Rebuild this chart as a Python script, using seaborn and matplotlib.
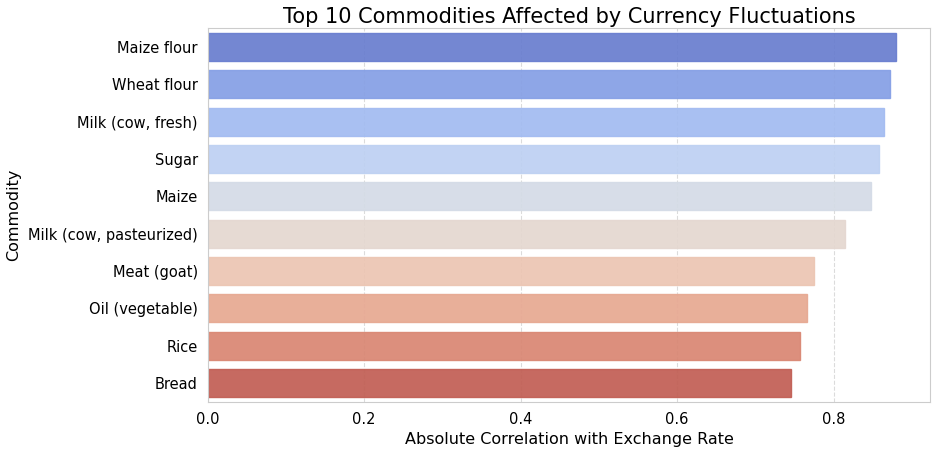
import matplotlib
matplotlib.use("Agg")
import matplotlib.pyplot as plt
import pandas as pd
import seaborn as sns

commodities = [
    "Maize flour",
    "Wheat flour",
    "Milk (cow, fresh)",
    "Sugar",
    "Maize",
    "Milk (cow, pasteurized)",
    "Meat (goat)",
    "Oil (vegetable)",
    "Rice",
    "Bread",
]
abs_corr = [0.8795, 0.872, 0.864, 0.858, 0.848, 0.8145, 0.775, 0.766, 0.757, 0.745]

df = pd.DataFrame({"Commodity": commodities, "Correlation": abs_corr})

sns.set_style("whitegrid")
plt.rcParams.update({
    "text.color": "black",
    "axes.labelcolor": "black",
    "xtick.color": "black",
    "ytick.color": "black",
})

fig, ax = plt.subplots(figsize=(9.35, 4.54), dpi=100)
sns.barplot(
    data=df,
    x="Correlation",
    y="Commodity",
    hue="Commodity",
    palette="coolwarm",
    legend=False,
    alpha=0.92,
    linewidth=1,
    width=0.75,
    ax=ax,
)
# outline each bar in its own colour, like the original
for bar in ax.patches:
    bar.set_edgecolor(bar.get_facecolor())

ax.grid(False)
ax.grid(axis="x", linestyle="--", alpha=0.7)
ax.set_axisbelow(True)
ax.set_title("Top 10 Commodities Affected by Currency Fluctuations", fontsize=15, pad=4)
ax.set_xlabel("Absolute Correlation with Exchange Rate", fontsize=11.5)
ax.set_ylabel("Commodity", fontsize=11.5, labelpad=5)
ax.tick_params(labelsize=10.5)
fig.subplots_adjust(left=0.222, right=0.995, top=0.938, bottom=0.115)
fig.savefig("out.png", dpi=100)
